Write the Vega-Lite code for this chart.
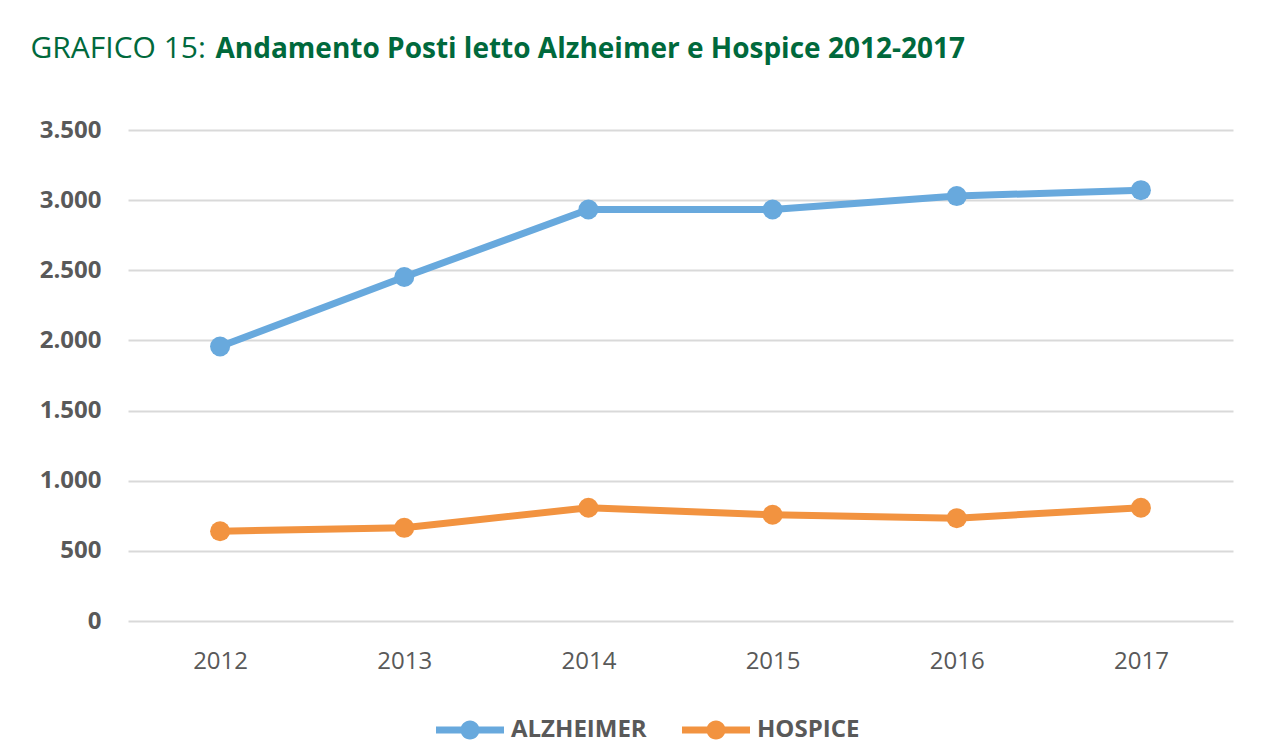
{
  "$schema": "https://vega.github.io/schema/vega-lite/v6.json",
  "width": 1105,
  "height": 491,
  "autosize": {"type": "none"},
  "padding": {"left": 128, "top": 130, "right": 33, "bottom": 132},
  "background": "white",
  "config": {
    "locale": {"number": {"decimal": ",", "thousands": ".", "grouping": [3], "currency": ["€", ""]}},
    "view": {"stroke": null},
    "font": "Open Sans"
  },
  "data": {
    "values": [
      {"year": "2012", "series": "ALZHEIMER", "value": 1957},
      {"year": "2013", "series": "ALZHEIMER", "value": 2452},
      {"year": "2014", "series": "ALZHEIMER", "value": 2933},
      {"year": "2015", "series": "ALZHEIMER", "value": 2933},
      {"year": "2016", "series": "ALZHEIMER", "value": 3029},
      {"year": "2017", "series": "ALZHEIMER", "value": 3071},
      {"year": "2012", "series": "HOSPICE", "value": 640},
      {"year": "2013", "series": "HOSPICE", "value": 664},
      {"year": "2014", "series": "HOSPICE", "value": 807},
      {"year": "2015", "series": "HOSPICE", "value": 757},
      {"year": "2016", "series": "HOSPICE", "value": 733},
      {"year": "2017", "series": "HOSPICE", "value": 807}
    ]
  },
  "encoding": {
    "x": {
      "field": "year",
      "type": "ordinal",
      "scale": {"type": "point", "padding": 0.5},
      "axis": {
        "title": "Andamento Posti letto Alzheimer e Hospice 2012-2017",
        "titleFont": "Open Sans",
        "titleFontSize": 28,
        "titleFontWeight": "bold",
        "titleColor": "#00693C",
        "titleAnchor": null,
        "titleAlign": "left",
        "titleBaseline": "alphabetic",
        "titleX": 87,
        "titleY": -564,
        "labelAngle": 0,
        "labelFont": "Open Sans",
        "labelFontSize": 24,
        "labelColor": "#595959",
        "labelPadding": 28,
        "ticks": false,
        "domain": false,
        "grid": false
      }
    },
    "y": {
      "field": "value",
      "type": "quantitative",
      "scale": {"domain": [0, 3500], "nice": false},
      "axis": {
        "title": "GRAFICO 15:",
        "titleFont": "Open Sans",
        "titleFontSize": 30,
        "titleFontWeight": "normal",
        "titleColor": "#00693C",
        "titleAngle": 0,
        "titleAnchor": null,
        "titleAlign": "left",
        "titleBaseline": "alphabetic",
        "titleX": -98,
        "titleY": -73,
        "values": [0, 500, 1000, 1500, 2000, 2500, 3000, 3500],
        "format": ",d",
        "labelFont": "Open Sans",
        "labelFontSize": 24,
        "labelFontWeight": "bold",
        "labelColor": "#595959",
        "labelPadding": 27,
        "ticks": false,
        "domain": false,
        "grid": true,
        "gridColor": "#d9d9d9",
        "gridWidth": 2
      }
    },
    "color": {
      "field": "series",
      "type": "nominal",
      "scale": {"domain": ["ALZHEIMER", "HOSPICE"], "range": ["#68A9DD", "#F29340"]},
      "legend": {
        "orient": "none",
        "legendX": 308,
        "legendY": 566,
        "direction": "horizontal",
        "title": null,
        "padding": 0,
        "symbolType": "M-1,-0.1L1,-0.1L1,0.1L-1,0.1Z M-0.28,0A0.28,0.28 0 1,1 0.28,0A0.28,0.28 0 1,1 -0.28,0Z",
        "symbolSize": 4624,
        "symbolStrokeWidth": 0,
        "labelFont": "Open Sans",
        "labelFontSize": 24,
        "labelFontWeight": "bold",
        "labelColor": "#595959",
        "labelOffset": 7,
        "columnPadding": 35,
        "encode": {
          "symbols": {
            "update": {
              "fill": {"scale": "color", "field": "value"},
              "stroke": {"value": "transparent"},
              "opacity": {"value": 1}
            }
          }
        }
      }
    }
  },
  "layer": [
    {"mark": {"type": "line", "strokeWidth": 7}},
    {"mark": {"type": "point", "shape": "circle", "filled": true, "size": 400, "opacity": 1}}
  ]
}
